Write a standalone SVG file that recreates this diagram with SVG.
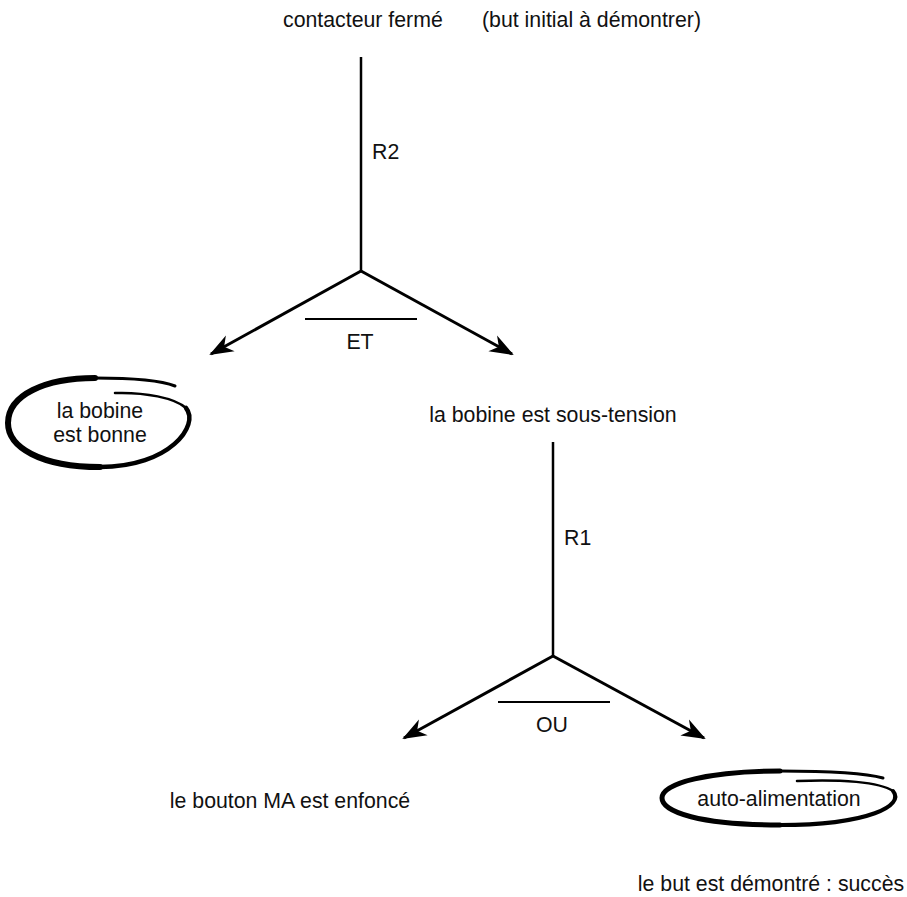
<svg xmlns="http://www.w3.org/2000/svg" width="907" height="897" viewBox="0 0 907 897">
  <style>
    text { font-family: "Liberation Sans", Arial, Helvetica, sans-serif; font-size: 21.3px; fill: #111; }
    .mid { text-anchor: middle; }
    .stem { stroke: #000; stroke-width: 2.5; fill: none; }
    .branch { stroke: #000; stroke-width: 3; fill: none; marker-end: url(#head); }
    .bar { stroke: #000; stroke-width: 2; }
    .brush { stroke: #000; fill: none; stroke-linecap: round; stroke-linejoin: round; }
  </style>
  <defs>
    <marker id="head" markerUnits="userSpaceOnUse" markerWidth="28" markerHeight="22" refX="0" refY="0" viewBox="-25 -11 28 22" orient="auto">
      <path d="M2,0 L-22,-9 L-15,0 L-22,9 Z" fill="#000"/>
    </marker>
  </defs>
  <rect width="907" height="897" fill="#fff"/>

  <g id="goal">
    <text x="283" y="27">contacteur fermé</text>
    <text x="482" y="27">(but initial à démontrer)</text>
  </g>

  <g id="connectors">
    <line class="stem" x1="361" y1="57" x2="361" y2="271"/>
    <path class="branch" d="M361,271 L211,354"/>
    <path class="branch" d="M361,271 L512,354"/>
    <line class="bar" x1="305" y1="319" x2="417" y2="319"/>

    <line class="stem" x1="553" y1="442" x2="553" y2="656"/>
    <path class="branch" d="M553,656 L404,738"/>
    <path class="branch" d="M553,656 L704,738"/>
    <line class="bar" x1="498" y1="702" x2="610" y2="702"/>
  </g>

  <g id="rule-r2">
    <text x="372" y="159">R2</text>
    <text class="mid" x="360" y="349">ET</text>
  </g>

  <!-- hand-drawn loop: thin inner tail, heavy body, tapered outer end -->
  <g id="coil-ok">
    <path class="brush" stroke-width="2.5" d="M115,393 C145,392 175,398 186,408"/>
    <path class="brush" stroke-width="4.5" d="M186,408 C200,425 170,467 100,467"/>
    <path class="brush" stroke-width="6" d="M100,467 C40,467 8,447 8,423 C8,395 45,378 95,378"/>
    <path class="brush" stroke-width="3" d="M95,378 C130,378 160,380 175,386"/>
    <text class="mid" x="100" y="418">la bobine</text>
    <text class="mid" x="100" y="442">est bonne</text>
  </g>

  <g id="coil-powered">
    <text class="mid" x="553" y="422">la bobine est sous-tension</text>
  </g>

  <g id="rule-r1">
    <text x="564" y="545">R1</text>
    <text class="mid" x="552" y="732">OU</text>
  </g>

  <g id="button-pressed">
    <text class="mid" x="290" y="808">le bouton MA est enfoncé</text>
  </g>

  <g id="self-hold">
    <path class="brush" stroke-width="2.5" d="M797,781 C840,779 880,782 893,791"/>
    <path class="brush" stroke-width="4" d="M893,791 C905,805 870,825 780,825"/>
    <path class="brush" stroke-width="5" d="M780,825 C700,825 662,812 662,798 C662,783 710,771 780,771"/>
    <path class="brush" stroke-width="3" d="M780,771 C830,771 865,773 883,778"/>
    <text class="mid" x="779" y="806">auto-alimentation</text>
  </g>

  <g id="success">
    <text class="mid" x="771" y="891">le but est démontré : succès</text>
  </g>
</svg>
